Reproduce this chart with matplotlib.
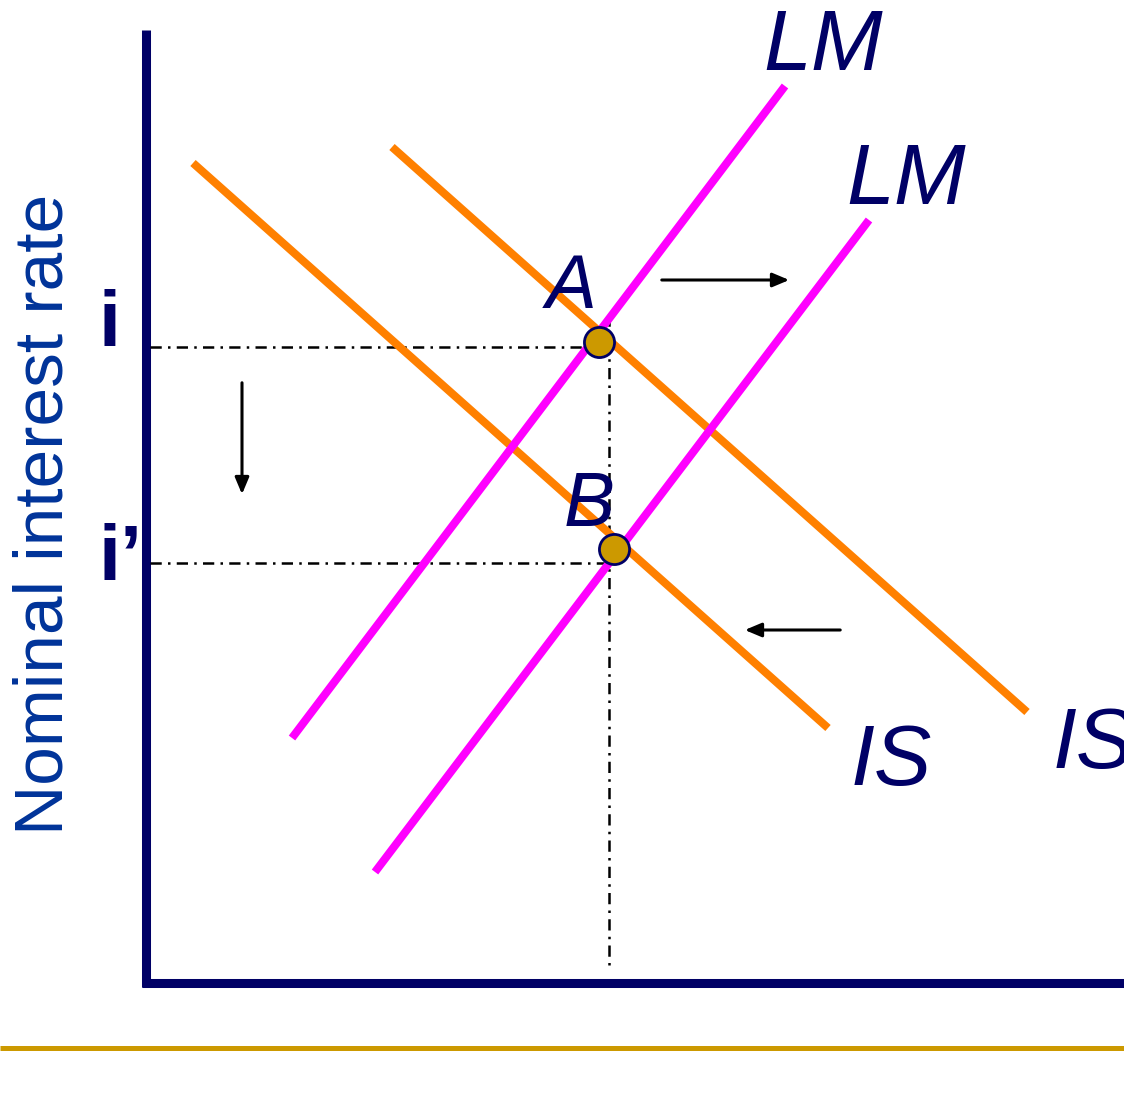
import matplotlib.pyplot as plt

# curve end points (pixel-like units, y down)
is_old = [(193, 163), (828, 728)]
is_new = [(392, 147), (1027, 712)]
lm_old = [(292, 738), (785, 86)]
lm_new = [(375, 872), (869, 220)]

eq_x = [599, 614]
eq_y = [342, 549]
eq_names = ['A', 'B']
rate_y = [347, 563]
rate_label_y = [326, 561]
rate_labels = ['i', 'i\u2019']
vline_x = 609

navy = '#000066'
orange = '#FF8000'
magenta = '#FF00FF'
gold = '#CC9900'

fig = plt.figure(figsize=(11.24, 11.20), dpi=100)
ax = fig.add_axes([0, 0, 1, 1])
ax.set_xlim(0, 1124)
ax.set_ylim(1120, 0)
ax.axis('off')

# axes of the diagram
ax.plot([146, 146], [30, 987], color=navy, lw=6.5, solid_capstyle='butt')
ax.plot([142, 1124], [983, 983], color=navy, lw=6.5, solid_capstyle='butt')
# bottom rule
ax.plot([0, 1124], [1048, 1048], color=gold, lw=3.6, solid_capstyle='butt')

# dash-dot guides
dd = (0, (4.5, 2.5, 1, 2.5))
for y in rate_y:
    ax.plot([150, vline_x], [y, y], color='black', lw=1.8, ls=dd)
ax.plot([vline_x, vline_x], [315, 965], color='black', lw=1.8, ls=dd)

for seg, c in [(is_old, orange), (is_new, orange), (lm_old, magenta), (lm_new, magenta)]:
    ax.plot([seg[0][0], seg[1][0]], [seg[0][1], seg[1][1]], color=c, lw=5.8,
            solid_capstyle='butt')

ax.scatter(eq_x, eq_y, s=470, color=gold, edgecolor=navy, linewidth=2, zorder=5)

lab = dict(color=navy, fontsize=55, style='italic', family='Liberation Sans')
ax.text(571, 289, 'A', ha='center', va='center', **lab)
ax.text(589, 506, 'B', ha='center', va='center', **lab)
lab['fontsize'] = 62
ax.text(823, 48, 'LM', ha='center', va='center', **lab)
ax.text(906, 182, 'LM', ha='center', va='center', **lab)
ax.text(891, 763, 'IS', ha='center', va='center', **lab)
ax.text(1053, 746, 'IS', ha='left', va='center', **lab)

for y, t in zip(rate_label_y, rate_labels):
    ax.text(99, y, t, ha='left', va='center', color=navy, fontsize=57,
            fontweight='bold', family='Liberation Sans')

ax.text(45, 514, 'Nominal interest rate', rotation=90, ha='center', va='center',
        color='#003399', fontsize=50, family='Liberation Sans')

arr = dict(arrowstyle='-|>,head_length=1.0,head_width=0.42', color='black', lw=2.2)
ax.annotate('', xy=(792, 280), xytext=(659, 280), arrowprops=arr)
ax.annotate('', xy=(242, 497), xytext=(242, 380), arrowprops=arr)
ax.annotate('', xy=(742, 630), xytext=(843, 630), arrowprops=arr)

plt.savefig('out.png', dpi=100)
